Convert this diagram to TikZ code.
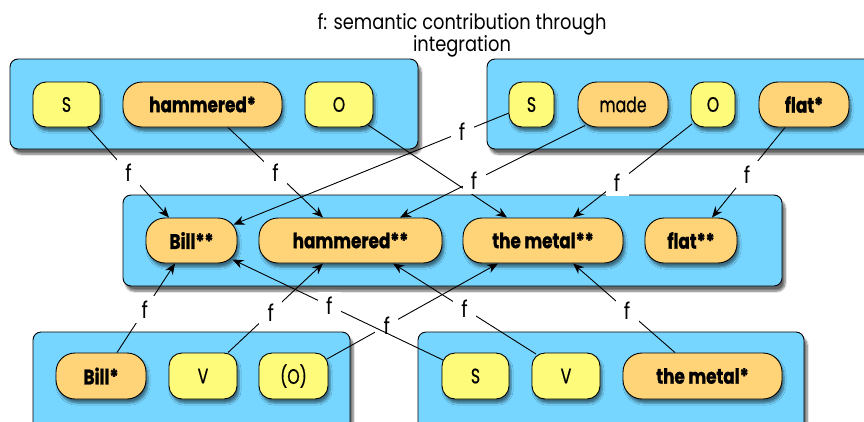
\documentclass[tikz,border=0pt]{standalone}
\usepackage{fontspec}
\setmainfont{Poppins}
\newfontfamily\titlefont{Poppins}[FakeStretch=0.85]
\newfontfamily\rolefont{Poppins}[FakeStretch=0.75, FakeBold=0.6]
\newfontfamily\wordfont{Poppins}[FakeStretch=0.8, BoldFeatures={FakeBold=1.2}]
\usetikzlibrary{calc,arrows.meta,shadows.blur}

\definecolor{boxblue}{RGB}{118,214,255}
\definecolor{roleyellow}{RGB}{255,251,122}
\definecolor{wordorange}{RGB}{255,212,121}

\pgfdeclarelayer{containers}
\pgfdeclarelayer{links}
\pgfsetlayers{containers,links,main}

\tikzset{
  frame/.style={draw=black, line width=0.9pt, fill=boxblue, rounded corners=8pt,
    blur shadow={shadow xshift=3pt, shadow yshift=-5pt, shadow blur steps=6, shadow opacity=60}},
  chip/.style={draw=black, line width=0.9pt, minimum height=45pt, inner sep=0pt,
    blur shadow={shadow xshift=2pt, shadow yshift=-4pt, shadow blur steps=5, shadow opacity=50}},
  role/.style={chip, fill=roleyellow, rounded corners=13pt, font=\rolefont\fontsize{21}{23}\selectfont},
  word/.style={chip, fill=wordorange, rounded corners=19pt, font=\wordfont\fontsize{21}{23}\selectfont\bfseries},
  link/.style={draw=black, line width=0.9pt, -{Stealth[length=11pt,width=9pt]}},
  flab/.style={fill=white, inner sep=0pt, minimum width=23pt, minimum height=27pt,
    font=\titlefont\fontsize{23}{25}\selectfont},
}

\begin{document}
\begin{tikzpicture}[x=1pt,y=-1pt]
\clip (0,0) rectangle (864,421);

% heading
\node[align=center, font=\titlefont\fontsize{21}{22}\selectfont] (title) at (462,35)
  {f: semantic contribution through\\integration};

% top left group
\node[role, minimum width=67pt] (tlS) at (66.5,104.5) {S};
\node[word, minimum width=159pt] (tlH) at (202.5,104.5) {hammered*};
\node[role, minimum width=68pt] (tlO) at (339,104.5) {O};

% top right group
\node[role, minimum width=45pt] (trS) at (531.5,104.5) {S};
\node[word, minimum width=90pt, font=\rolefont\fontsize{21}{23}\selectfont] (trM) at (623,104.5) {made};
\node[role, minimum width=44pt] (trO) at (713,104.5) {O};
\node[word, minimum width=90pt] (trF) at (804,104.5) {flat*};

% integrated row
\node[word, minimum width=91pt] (B2) at (191.5,240.5) {Bill**};
\node[word, minimum width=183pt] (H2) at (350.5,240.5) {hammered**};
\node[word, minimum width=160pt] (M2) at (543,240.5) {the metal**};
\node[word, minimum width=92pt] (F2) at (691,240.5) {flat**};

% bottom left group
\node[word, minimum width=90pt, minimum height=46pt] (B1) at (101,376) {Bill*};
\node[role, minimum width=68pt, minimum height=46pt] (lV) at (203,376) {V};
\node[role, minimum width=69pt, minimum height=46pt] (lO) at (293.5,376) {(O)};

% bottom right group
\node[role, minimum width=67pt, minimum height=46pt] (rS) at (475.5,376) {S};
\node[role, minimum width=68pt, minimum height=46pt] (rV) at (566,376) {V};
\node[word, minimum width=159pt, minimum height=46pt] (M1) at (702.5,376) {the metal*};

\begin{pgfonlayer}{containers}
\path[frame] (10,59) rectangle (418,149);
\path[frame] (487,59) rectangle (880,149);
\path[frame] (123,195) rectangle (782,286);
\path[frame] (33,332) rectangle (350,440);
\path[frame] (418,332) rectangle (804,440);
\end{pgfonlayer}

\begin{pgfonlayer}{links}
% from the upper groups
\draw[link] ($(tlS.south)+(21.5,0)$) -- node[flab, pos=0.5] (f1) {f} ($(B2.north)+(-22.5,0)$);
\draw[link] ($(tlH.south)+(25.5,0)$) -- node[flab, pos=0.5] (f2) {f} ($(H2.north)+(-27.5,0)$);
\draw[link] ($(tlO.center)+(29,20.5)$) -- ($(M2.north)+(-36,0)$);
\draw[link] ($(trS.center)+(-22.5,8.5)$) -- node[flab, pos=0.17] (f3) {f} ($(B2.center)+(42,-16)$);
\draw[link] ($(trM.center)+(-38,21)$) -- node[flab, pos=0.6] (f4) {f} ($(H2.north)+(49.5,0)$);
\draw[link] ($(trO.center)+(-21,19.5)$) -- node[flab, pos=0.63] (f5) {f} ($(M2.north)+(30,0)$);
\draw[link] ($(trF.south)+(-19,0)$) -- node[flab, pos=0.52] (f6) {f} ($(F2.north)+(21,0)$);
% from the lower groups
\draw[link] ($(B1.north)+(16,0)$) -- node[flab, pos=0.48] (f7) {f} ($(B2.south)+(-16.5,0)$);
\draw[link] ($(lV.north)+(25,0)$) -- node[flab, pos=0.45] (f8) {f} ($(H2.south)+(-27.5,0)$);
\draw[link] ($(lO.center)+(33.5,-17)$) -- node[flab, pos=0.35] (f9) {f} ($(M2.south)+(-45,0)$);
\draw[link] ($(rS.center)+(-32.5,-16)$) -- node[flab, pos=0.54] (f10) {f} ($(B2.center)+(41,19)$);
\draw[link] ($(rV.center)+(-30,-22)$) -- node[flab, pos=0.5] (f11) {f} ($(H2.south)+(42.5,0)$);
\draw[link] ($(M1.north)+(-27.5,0)$) -- node[flab, pos=0.47] (f12) {f} ($(M2.south)+(30,0)$);
\end{pgfonlayer}
\end{tikzpicture}
\end{document}
